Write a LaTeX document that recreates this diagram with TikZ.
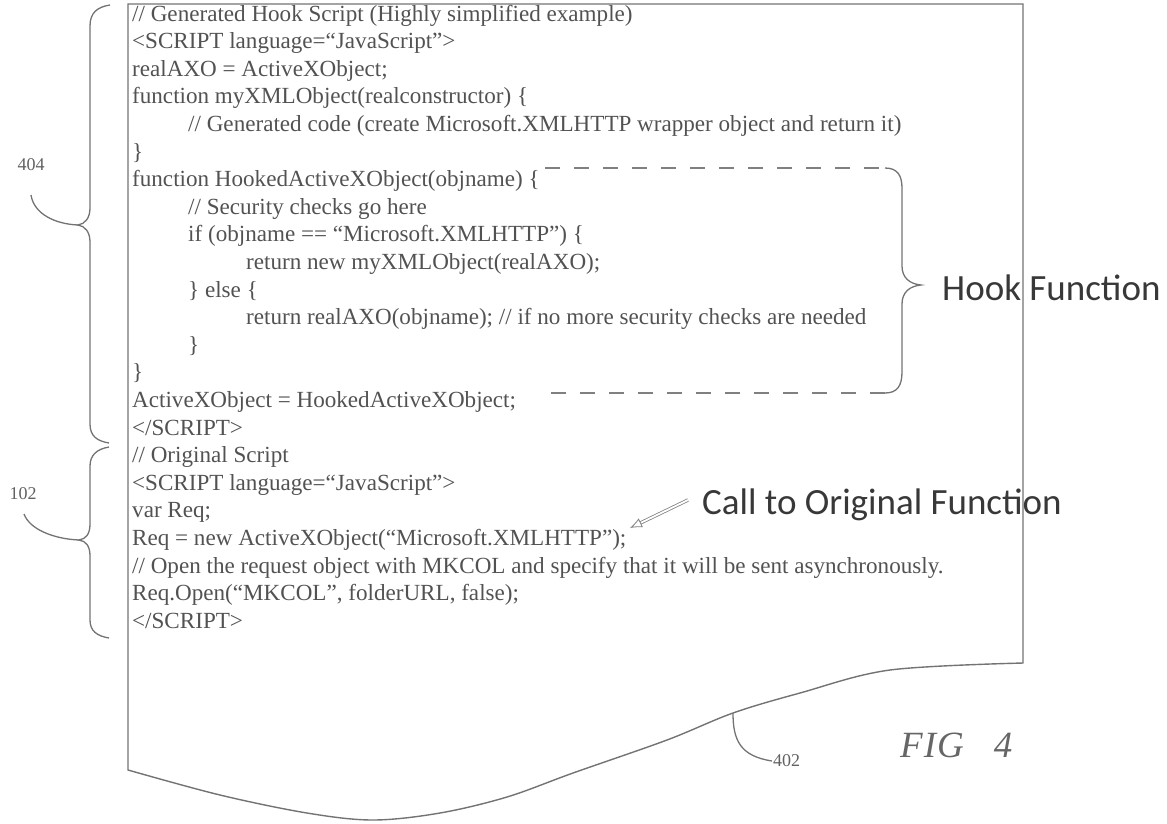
\documentclass[tikz,border=0pt]{standalone}
\usepackage{fontspec}
\setmainfont{Liberation Serif}
\newfontfamily\labelfont{Carlito}
\usetikzlibrary{arrows.meta}
\tikzset{
  code/.style={anchor=base west, inner sep=0pt, text=black!68,
    font=\fontsize{23.1}{27}\selectfont},
  outline/.style={draw=black!55, line width=1.4pt},
  brace/.style={draw=black!55, line width=1.3pt},
  dashline/.style={draw=black!50, line width=1.4pt, dash pattern=on 15pt off 14pt},
  reflabel/.style={inner sep=1pt, text=black!62, font=\fontsize{18}{20}\selectfont},
  callout/.style={anchor=base west, inner sep=0pt, text=black!78,
    font=\labelfont\fontsize{37}{42}\selectfont},
}
\begin{document}
\begin{tikzpicture}[x=1pt,y=-1pt]
\useasboundingbox (0,0) rectangle (1167,823);

% sheet outline with torn bottom edge
\draw[outline] (128,4) -- (1023,4) -- (1023,663)
  -- plot[smooth, tension=0.55] coordinates {(1023,663) (890,670) (800,693) (733,713)
     (667,740) (573,773) (507,797) (440,813) (373,820) (307,813) (220,795) (128,770)}
  -- cycle;
\coordinate (edge402) at (733,713);

% code listing (left margin 132, indents 188 and 246, line pitch 27.6)
\node[code] (l1)  at (132,21.0)  {// Generated Hook Script (Highly simplified example)};
\node[code] (l2)  at (132,48.6)  {<SCRIPT language=“JavaScript”>};
\node[code] (l3)  at (132,76.2)  {realAXO = ActiveXObject;};
\node[code] (l4)  at (132,103.8) {function myXMLObject(realconstructor) \{};
\node[code] (l5)  at (188,131.4) {// Generated code (create Microsoft.XMLHTTP wrapper object and return it)};
\node[code] (l6)  at (132,159.0) {\}};
\node[code] (l7)  at (132,186.6) {function HookedActiveXObject(objname) \{};
\node[code] (l8)  at (188,214.2) {// Security checks go here};
\node[code] (l9)  at (188,241.8) {if (objname == “Microsoft.XMLHTTP”) \{};
\node[code] (l10) at (246,269.4) {return new myXMLObject(realAXO);};
\node[code] (l11) at (188,297.0) {\} else \{};
\node[code] (l12) at (246,324.6) {return realAXO(objname); // if no more security checks are needed};
\node[code] (l13) at (188,352.2) {\}};
\node[code] (l14) at (132,379.8) {\}};
\node[code] (l15) at (132,407.4) {ActiveXObject = HookedActiveXObject;};
\node[code] (l16) at (132,435.0) {</SCRIPT>};
\node[code] (l17) at (132,462.6) {// Original Script};
\node[code] (l18) at (132,490.2) {<SCRIPT language=“JavaScript”>};
\node[code] (l19) at (132,517.8) {var Req;};
\node[code] (l20) at (132,545.4) {Req = new ActiveXObject(“Microsoft.XMLHTTP”);};
\node[code] (l21) at (132,573.0) {// Open the request object with MKCOL and specify that it will be sent asynchronously.};
\node[code] (l22) at (132,600.6) {Req.Open(“MKCOL”, folderURL, false);};
\node[code] (l23) at (132,628.2) {</SCRIPT>};

% hook function bracket
\draw[dashline] (545,168) -- (885,168);
\draw[brace] (885,168) .. controls (897,168) and (902,175) .. (902,188) -- (902,266)
  .. controls (902,278) and (910,284) .. (921,285) coordinate (hooktip)
  .. controls (910,286) and (902,292) .. (902,304) -- (902,372)
  .. controls (902,386) and (897,393) .. (885,393);
\draw[dashline] (885,393) -- (545,393);
\node[callout] (hook) at (942,300) {Hook Function};

% call to original function
\node[callout] (call) at (702,514) {Call to Original Function};
\coordinate (calltail) at (688,500);
\coordinate (callend) at (630,528);
\draw[draw=black!50, double=white, double distance=1.8pt, line width=0.8pt,
  -{Latex[open, length=12pt, width=10pt]}] (calltail) -- (callend);

% brace 404
\draw[brace] (110,5) .. controls (97,7) and (90,13) .. (90,26) -- (90,208)
  .. controls (90,218) and (85,224) .. (78,225) coordinate (tip404)
  .. controls (85,226) and (90,232) .. (90,242) -- (90,424)
  .. controls (90,436) and (97,441) .. (109,443);
\node[reflabel] (r404) at (31,165) {404};
\draw[brace] (tip404) .. controls (55,224) and (34,214) .. (31,195);

% brace 102
\draw[brace] (109,447) .. controls (97,449) and (90,455) .. (90,466) -- (90,524)
  .. controls (90,534) and (86,539) .. (79,540) coordinate (tip102)
  .. controls (86,541) and (90,546) .. (90,556) -- (90,620)
  .. controls (90,631) and (97,636) .. (109,638);
\node[reflabel] (r102) at (23,494) {102};
\draw[brace] (tip102) .. controls (55,539) and (30,530) .. (24,514);

% sheet reference 402
\node[reflabel, anchor=west] (r402) at (772,761) {402};
\draw[brace] (edge402) .. controls (733,740) and (740,756) .. (r402.west);

% figure caption
\node[anchor=base west, inner sep=0pt, text=black!60,
  font=\itshape\fontsize{37}{40}\selectfont] (fig) at (900,757) {F\kern1pt I\kern1pt G\hspace{30pt}4};
\end{tikzpicture}
\end{document}
